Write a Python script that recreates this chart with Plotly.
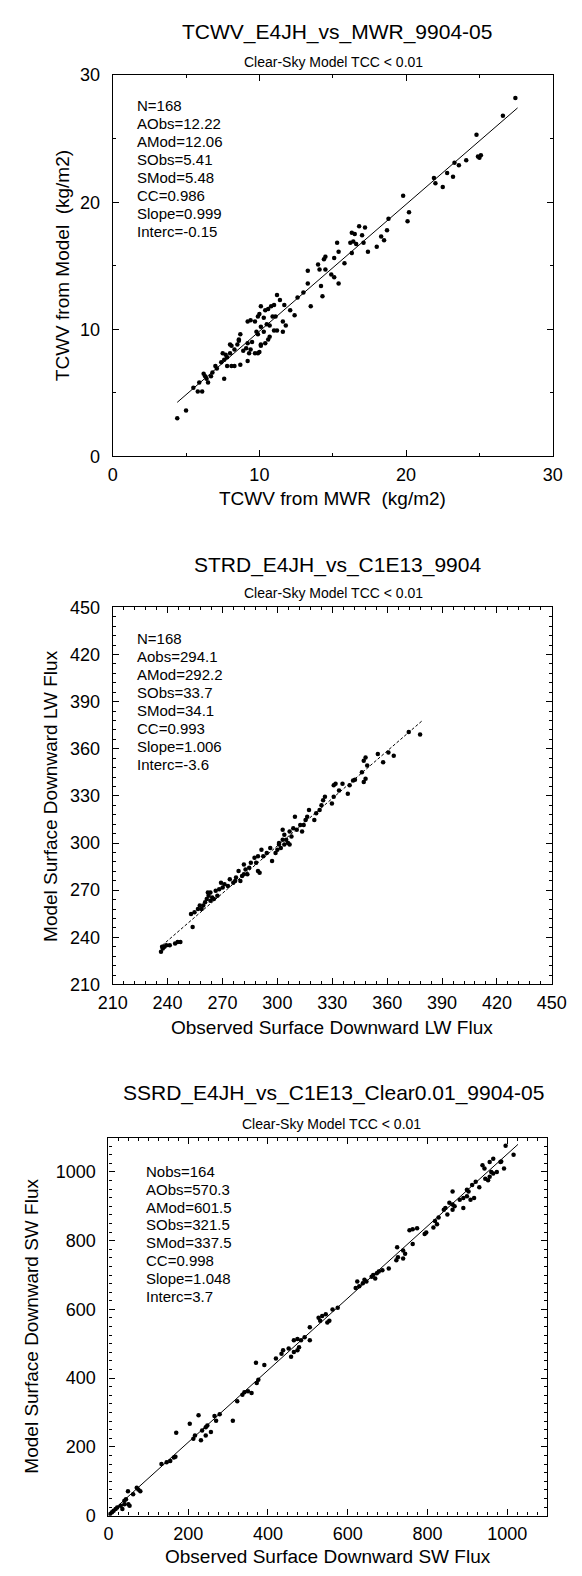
import plotly.graph_objects as go

W, H = 582, 1576
FONT = "Liberation Sans, Arial, Helvetica, sans-serif"

# ---------------- TCWV: MWR retrieval vs model (kg/m2) ----------------
tcwv_pairs = [
    (27.45, 28.2), (26.6, 26.8), (24.8, 25.3), (24.9, 23.6), (25.0, 23.5), (25.1, 23.7),
    (24.1, 23.3), (23.6, 22.9), (23.3, 23.1), (22.8, 22.3), (23.2, 22.0), (21.9, 21.9),
    (22.0, 21.5), (22.5, 21.2), (19.8, 20.5), (20.2, 19.2), (20.1, 18.5), (18.8, 18.7),
    (18.7, 17.8), (18.3, 17.3), (18.5, 17.0), (18.0, 16.5), (17.4, 16.1), (16.8, 18.1),
    (17.2, 18.0), (16.3, 17.6), (16.5, 17.5), (17.0, 17.4), (16.4, 16.9), (16.2, 16.8),
    (16.6, 16.7), (17.1, 16.8), (16.3, 16.0), (15.8, 15.2), (15.3, 16.8), (15.4, 16.1),
    (15.1, 15.6), (14.5, 15.7), (14.4, 15.5), (14.0, 15.1), (14.1, 14.7), (14.5, 14.7),
    (14.9, 14.3), (15.1, 14.1), (15.4, 13.6), (14.2, 13.4), (14.3, 12.6), (13.3, 14.6),
    (13.3, 13.6), (13.5, 11.8), (13.0, 12.9), (12.6, 12.5), (12.4, 11.1), (12.1, 11.5),
    (11.8, 10.3), (11.6, 9.8), (11.2, 12.7), (11.4, 12.3), (11.7, 11.9), (11.6, 10.6),
    (11.0, 11.9), (10.8, 11.8), (11.1, 11.0), (10.9, 11.0), (11.2, 9.9), (11.0, 9.9),
    (10.6, 11.6), (10.4, 11.5), (10.1, 11.8), (10.0, 11.2), (9.9, 11.0), (10.3, 10.9),
    (9.7, 10.6), (9.4, 10.7), (9.2, 10.6), (10.5, 10.4), (10.7, 10.3), (10.1, 10.2),
    (10.3, 9.8), (9.8, 9.8), (9.9, 9.6), (10.7, 9.4), (10.6, 9.2), (10.4, 8.9),
    (10.1, 8.8), (10.1, 8.7), (9.9, 8.1), (9.7, 8.1), (9.4, 8.4), (9.5, 9.0),
    (9.2, 8.9), (9.1, 8.5), (8.7, 9.6), (8.6, 9.2), (8.9, 8.3), (9.2, 7.5),
    (9.3, 8.1), (10.0, 8.2), (8.7, 7.2), (8.3, 7.1), (8.1, 7.1), (7.8, 7.1),
    (7.4, 7.4), (7.6, 7.6), (7.7, 8.0), (7.5, 8.1), (8.0, 8.1), (8.3, 8.4),
    (8.1, 8.7), (8.0, 8.8), (8.5, 8.8), (8.6, 9.1), (7.8, 7.8), (7.1, 6.9),
    (7.0, 7.1), (7.6, 6.1), (6.8, 6.6), (6.7, 6.3), (6.4, 6.1), (6.5, 5.8),
    (6.2, 6.5), (6.3, 6.3), (5.9, 5.8), (5.8, 5.1), (6.1, 5.1), (5.5, 5.4),
    (5.0, 3.6), (4.4, 3.0),
]
tcwv_mwr = [p[0] for p in tcwv_pairs]
tcwv_model = [p[1] for p in tcwv_pairs]
tcwv_stats = ["N=168", "AObs=12.22", "AMod=12.06", "SObs=5.41", "SMod=5.48",
              "CC=0.986", "Slope=0.999", "Interc=-0.15"]
tcwv_slope, tcwv_interc = 0.999, -0.15
tcwv_fit_x = [4.4, 27.6]

# ---------------- STRD: surface downward LW flux ----------------
lw_pairs = [
    (363.6, 355.6), (360.7, 357.6), (357.8, 351.4), (354.9, 356.6), (348.2, 354.5),
    (347.2, 352.4), (349.1, 349.3), (346.2, 345.1), (348.2, 340.9), (347.2, 338.8),
    (342.4, 340.3), (341.4, 339.8), (339.5, 336.7), (338.5, 331.4), (335.6, 337.7),
    (331.8, 337.7), (330.8, 336.7), (333.7, 333.5), (330.8, 329.4), (329.8, 325.2),
    (326.0, 329.4), (325.0, 327.3), (324.1, 324.1), (323.1, 321.0), (317.3, 321.0),
    (316.3, 316.8), (321.2, 318.9), (320.2, 314.7), (315.4, 314.7), (314.4, 311.5),
    (312.5, 311.5), (313.5, 307.3), (309.6, 316.8), (310.6, 308.4), (308.7, 309.4),
    (306.7, 307.3), (307.7, 304.2), (302.9, 308.4), (303.8, 305.2), (304.8, 302.1),
    (305.8, 300.0), (302.9, 302.1), (300.9, 299.0), (301.9, 296.9), (300.0, 295.8),
    (299.0, 293.7), (300.9, 300.0), (303.8, 299.0), (306.7, 299.0), (297.1, 288.5),
    (296.1, 296.9), (294.2, 293.7), (291.3, 295.8), (292.3, 291.6), (289.4, 291.6),
    (287.5, 290.6), (288.4, 287.4), (289.4, 282.2), (290.3, 281.1), (285.5, 287.4),
    (284.6, 284.3), (282.6, 283.2), (281.7, 280.1), (283.6, 280.1), (281.7, 286.4),
    (280.7, 279.0), (278.8, 282.2), (277.4, 278.0), (276.9, 275.9), (279.8, 275.9),
    (275.9, 274.8), (274.0, 276.9), (273.0, 272.7), (271.1, 273.8), (270.1, 271.7),
    (269.2, 274.8), (268.2, 270.6), (266.3, 269.6), (267.2, 266.5), (263.4, 268.6),
    (264.4, 265.4), (262.4, 266.5), (261.4, 264.4), (260.5, 262.3), (259.5, 260.2),
    (263.4, 263.3), (265.3, 264.4), (262.0, 268.6), (257.6, 260.2), (256.6, 258.1),
    (258.6, 258.1), (254.7, 256.0), (252.8, 254.9), (253.7, 246.5), (247.0, 237.1),
    (245.5, 237.1), (244.1, 236.1), (241.2, 235.0), (239.3, 235.0), (238.3, 234.0),
    (237.4, 232.9), (236.4, 230.8), (237.0, 234.0), (371.8, 370.7), (378.0, 369.0),
]
lw_obs = [p[0] for p in lw_pairs]
lw_model = [p[1] for p in lw_pairs]
lw_stats = ["N=168", "Aobs=294.1", "AMod=292.2", "SObs=33.7", "SMod=34.1",
            "CC=0.993", "Slope=1.006", "Interc=-3.6"]
lw_slope, lw_interc = 1.006, -3.6
lw_fit_x = [237.0, 379.0]

# ---------------- SSRD: surface downward SW flux ----------------
sw_pairs = [
    (4, 5), (9, 10), (13, 14), (18, 19), (22, 24), (31, 29), (40, 33), (35, 19),
    (44, 48), (49, 71), (50, 33), (53, 29), (40, 43), (62, 62), (71, 81), (75, 76),
    (80, 71), (133, 150), (146, 155), (155, 159), (164, 169), (168, 171), (170, 241),
    (204, 267), (226, 292), (213, 224), (217, 233), (232, 219), (235, 248), (244, 257),
    (248, 262), (244, 233), (257, 243), (270, 276), (266, 290), (279, 295), (312, 276),
    (323, 333), (336, 352), (359, 357), (350, 362), (341, 359), (372, 386), (376, 395),
    (370, 445), (391, 438), (420, 457), (434, 471), (438, 481), (452, 486), (458, 462),
    (465, 476), (474, 481), (478, 490), (465, 510), (474, 514), (483, 510), (492, 519),
    (505, 548), (505, 510), (527, 576), (536, 581), (545, 586), (531, 567), (549, 562),
    (554, 567), (562, 600), (575, 605), (620, 662), (624, 681), (629, 667), (638, 676),
    (642, 686), (647, 681), (660, 695), (664, 700), (669, 690), (673, 705), (678, 710),
    (687, 714), (703, 719), (722, 743), (726, 752), (724, 781), (739, 771), (744, 762),
    (739, 748), (755, 830), (763, 833), (774, 836), (763, 790), (793, 819), (797, 824),
    (815, 838), (824, 848), (819, 857), (828, 867), (841, 890), (850, 876), (845, 895),
    (855, 910), (868, 900), (863, 905), (863, 890), (890, 895), (881, 919), (890, 924),
    (899, 929), (908, 919), (917, 924), (996, 1076), (1016, 1050), (965, 1038),
    (956, 1029), (938, 1019), (943, 1010), (983, 1029), (992, 1010), (974, 1000),
    (965, 995), (956, 986), (952, 976), (921, 971), (912, 962), (899, 948), (903, 943),
    (863, 943), (930, 955), (945, 980), (960, 1000), (985, 1030),
]
sw_obs = [p[0] for p in sw_pairs]
sw_model = [p[1] for p in sw_pairs]
sw_stats = ["Nobs=164", "AObs=570.3", "AMod=601.5", "SObs=321.5", "SMod=337.5",
            "CC=0.998", "Slope=1.048", "Interc=3.7"]
sw_slope, sw_interc = 1.048, 3.7
sw_fit_x = [0.0, 1027.0]

titles = ["TCWV_E4JH_vs_MWR_9904-05", "STRD_E4JH_vs_C1E13_9904",
          "SSRD_E4JH_vs_C1E13_Clear0.01_9904-05"]
subtitle = "Clear-Sky Model TCC < 0.01"
x_titles = ["TCWV from MWR  (kg/m2)", "Observed Surface Downward LW Flux",
            "Observed Surface Downward SW Flux"]
y_titles = ["TCWV from Model  (kg/m2)", "Model Surface Downward LW Flux",
            "Model Surface Downward SW Flux"]


def px(x):
    return x / W


def py(y):
    return 1 - y / H


# panel geometry in pixels: (left, right, top, bottom)
boxes = [(103, 567, 66, 452), (103, 566, 605, 987), (98.5, 561, 1142, 1525)]
ranges = [(0, 30), (210, 450), (0, 1100)]
dticks = [10, 30, 200]
minor_dticks = [5, 6, 25]
title_y = [22, 562, 1097]
sub_y = [53, 590, 1128]
xtitle_y = [495, 1031, 1566]
ytitle_x = [50, 38, 18]
stats_xy = [(127, 97), (127, 637), (136, 1176)]
title_cx = [340, 340, 336]
sub_cx = [336, 336, 334]

series = [
    (tcwv_mwr, tcwv_model, tcwv_stats, tcwv_slope, tcwv_interc, tcwv_fit_x, "solid"),
    (lw_obs, lw_model, lw_stats, lw_slope, lw_interc, lw_fit_x, "3px,2px"),
    (sw_obs, sw_model, sw_stats, sw_slope, sw_interc, sw_fit_x, "solid"),
]

fig = go.Figure()
annotations = []
layout_axes = {}

for i, (xs, ys, stats, slope, interc, fx, dash) in enumerate(series):
    n = "" if i == 0 else str(i + 1)
    xref, yref = "x" + n, "y" + n
    fig.add_trace(go.Scatter(
        x=xs, y=ys, mode="markers", xaxis=xref, yaxis=yref,
        marker=dict(color="black", size=4.5, line=dict(width=0)),
        showlegend=False, hoverinfo="x+y"))
    fy = [slope * v + interc for v in fx]
    fig.add_trace(go.Scatter(
        x=fx, y=fy, mode="lines", xaxis=xref, yaxis=yref,
        line=dict(color="black", width=1, dash=dash),
        showlegend=False, hoverinfo="skip"))

    l, r, t, b = boxes[i]
    lo, hi = ranges[i]
    common = dict(
        range=[lo, hi], dtick=dticks[i], tick0=lo, showline=True, linecolor="black",
        linewidth=1.3, mirror="allticks", ticks="inside", ticklen=6, tickwidth=1,
        tickcolor="black", showgrid=False, zeroline=False,
        tickfont=dict(family=FONT, size=18, color="black"),
        ticklabeloverflow="allow",
        minor=dict(ticks="inside", dtick=minor_dticks[i], ticklen=3,
                   tickcolor="black", tickwidth=1, showgrid=False),
    )
    layout_axes["xaxis" + n] = dict(common, domain=[px(l), px(r)], anchor=yref,
                                    ticklabelstandoff=2)
    layout_axes["yaxis" + n] = dict(common, domain=[py(b), py(t)], anchor=xref,
                                    ticklabelstandoff=8)

    annotations.append(dict(text=titles[i], x=px(title_cx[i]), y=py(title_y[i]),
                            xref="paper", yref="paper", showarrow=False,
                            xanchor="center", yanchor="middle",
                            font=dict(family=FONT, size=21, color="black")))
    annotations.append(dict(text=subtitle, x=px(sub_cx[i]), y=py(sub_y[i]),
                            xref="paper", yref="paper", showarrow=False,
                            xanchor="center", yanchor="middle",
                            font=dict(family=FONT, size=14, color="black")))
    annotations.append(dict(text=x_titles[i], x=px((l + r) / 2), y=py(xtitle_y[i]),
                            xref="paper", yref="paper", showarrow=False,
                            xanchor="center", yanchor="middle",
                            font=dict(family=FONT, size=19, color="black")))
    annotations.append(dict(text=y_titles[i], x=px(ytitle_x[i]), y=py((t + b) / 2),
                            xref="paper", yref="paper", showarrow=False,
                            textangle=-90, xanchor="center", yanchor="middle",
                            font=dict(family=FONT, size=19, color="black")))
    sx, sy = stats_xy[i]
    for k, line in enumerate(stats):
        annotations.append(dict(text=line, x=px(sx), y=py(sy + 18.2 * k),
                                xref="paper", yref="paper", showarrow=False,
                                xanchor="left", yanchor="middle",
                                font=dict(family=FONT, size=15, color="black")))

fig.update_layout(
    width=W, height=H, margin=dict(l=0, r=0, t=0, b=0),
    paper_bgcolor="white", plot_bgcolor="white",
    annotations=annotations, showlegend=False, **layout_axes)

fig.write_html("out.html")
